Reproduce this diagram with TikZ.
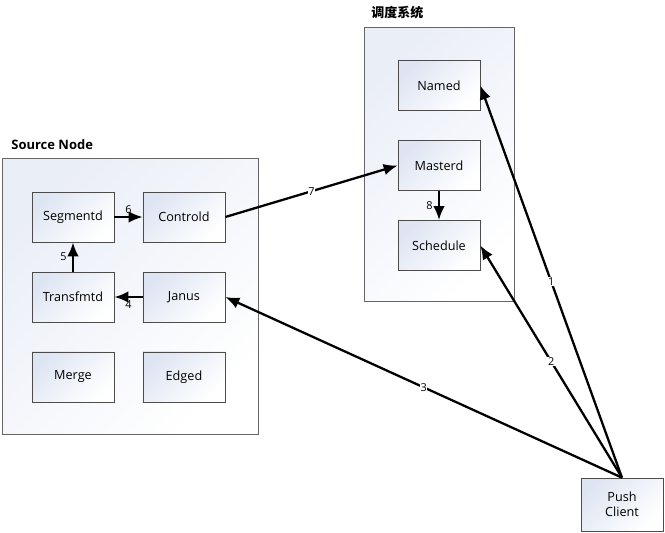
\documentclass[tikz,border=0pt]{standalone}
\usepackage{fontspec}
\setmainfont{Open Sans}
\newfontfamily\cjk{Noto Sans CJK SC}
\usetikzlibrary{shapes,arrows.meta}
\definecolor{boxtint}{RGB}{222,229,242}
\definecolor{paneltint}{RGB}{234,238,247}
\tikzstyle{module} = [draw=black!70, rectangle, top color=boxtint, bottom color=white, shading angle=45, text centered, minimum width=1.64cm, minimum height=1cm, font=\fontsize{7.2}{8.6}\selectfont]
\tikzstyle{panel} = [draw=black!60, rectangle, top color=paneltint, bottom color=white, shading angle=45, inner sep=0pt]
\tikzstyle{line} = [draw, line width=1.3pt, -{Latex[length=2.8mm,width=2.3mm]}]
\tikzstyle{stepnum} = [font=\fontsize{6.2}{7}\selectfont, inner sep=1.5pt]
\tikzstyle{onwire} = [stepnum, anchor=center, fill=white, inner sep=0.4pt]
\tikzstyle{title} = [font=\bfseries\fontsize{7.4}{9}\selectfont, anchor=south west, inner sep=0pt]
\pgfdeclarelayer{background}
\pgfsetlayers{background,main}

\begin{document}
\begin{tikzpicture}[x=0.02cm, y=-0.02cm, node distance=2.22cm, auto]
    \useasboundingbox (0,0) rectangle (665,532);
    % source node
    \node [module] at (73,217) (segmentd){Segmentd};
    \node [module, right of=segmentd](controld){Controld};
    \node [module, below of=segmentd, node distance=1.6cm](transfmtd){Transfmtd};
    \node [module, right of=transfmtd](janus){Janus};
    \node [module, below of=transfmtd, node distance=1.6cm](merge){Merge};
    \node [module, right of=merge](edged){Edged};
    % scheduler
    \node [module] at (439,85.5) (named){Named};
    \node [module, below of=named, node distance=1.6cm](masterd){Masterd};
    \node [module, below of=masterd, node distance=1.6cm](schedule){Schedule};
    % client
    \node [module, minimum height=1.06cm, text width=1.3cm] at (622,504.5) (push){Push\\Client};

    \path [line](segmentd) -- node[stepnum]{6} (controld);
    \path [line](transfmtd) -- node[stepnum, inner sep=3pt]{5} (segmentd);
    \path [line](janus) -- node[stepnum]{4} (transfmtd);
    \path [line](masterd) -- node[stepnum, swap, inner sep=3pt]{8} (schedule);
    \path [line](controld.east) -- node[onwire]{7} (masterd.west);
    \path [line](push.north) -- node[onwire]{1} (named.east);
    \path [line](push.north) -- node[onwire]{2} (schedule.east);
    \path [line](push.north) -- node[onwire]{3} (janus.east);

    \begin{pgfonlayer}{background}
       \node [panel, minimum width=5.12cm, minimum height=5.52cm] at (130,296) (source){};
       \node [title] at (11,150) (source-title){Source Node};
       \node [panel, minimum width=3cm, minimum height=5.48cm] at (439,164) (sched){};
       \node [title] at (371,19) (sched-title){\cjk 调度系统};
    \end{pgfonlayer}
  \end{tikzpicture}
\end{document}
